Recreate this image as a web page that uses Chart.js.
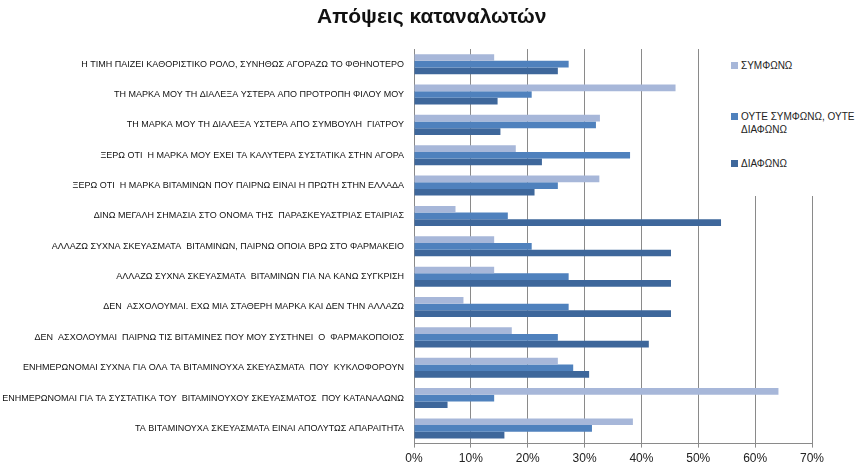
<!DOCTYPE html>
<html>
<head>
<meta charset="utf-8">
<script src="https://cdn.jsdelivr.net/npm/chart.js@4"></script>
<style>
  html, body { margin: 0; padding: 0; background: #fff; }
  #wrap { position: relative; width: 861px; height: 471px; }
  #title {
    position: absolute; left: 317px; top: 4px; width: 200px; text-align: center; white-space: nowrap;
    font-family: "Liberation Sans", Arial, sans-serif; font-size: 21px; font-weight: bold; color: #111;
  }
  #legend {
    position: absolute; left: 722px; top: 42px; width: 139px; height: 154px;
    background: #fff; font-family: "Liberation Sans", Arial, sans-serif; font-size: 10px; color: #222;
  }
  #legend .item { position: absolute; left: 9px; width: 118px; line-height: 13px; padding-left: 10px; }
  #legend .box { position: absolute; left: 0; top: 3px; width: 7px; height: 7px; }
</style>
</head>
<body>
<div id="wrap">
  <canvas id="chart" width="861" height="471"></canvas>
  <div id="title">Απόψεις καταναλωτών</div>
  <div id="legend"></div>
</div>
<script>
// κατηγορίες (από πάνω προς τα κάτω)
const categories = [
  'Η ΤΙΜΗ ΠΑΙΖΕΙ ΚΑΘΟΡΙΣΤΙΚΟ ΡΟΛΟ, ΣΥΝΗΘΩΣ ΑΓΟΡΑΖΩ ΤΟ ΦΘΗΝΟΤΕΡΟ',
  'ΤΗ ΜΑΡΚΑ ΜΟΥ ΤΗ ΔΙΑΛΕΞΑ ΥΣΤΕΡΑ ΑΠΟ ΠΡΟΤΡΟΠΗ ΦΙΛΟΥ ΜΟΥ',
  'ΤΗ ΜΑΡΚΑ ΜΟΥ ΤΗ ΔΙΑΛΕΞΑ ΥΣΤΕΡΑ ΑΠΟ ΣΥΜΒΟΥΛΗ  ΓΙΑΤΡΟΥ',
  'ΞΕΡΩ ΟΤΙ  Η ΜΑΡΚΑ ΜΟΥ ΕΧΕΙ ΤΑ ΚΑΛΥΤΕΡΑ ΣΥΣΤΑΤΙΚΑ ΣΤΗΝ ΑΓΟΡΑ',
  'ΞΕΡΩ ΟΤΙ  Η ΜΑΡΚΑ ΒΙΤΑΜΙΝΩΝ ΠΟΥ ΠΑΙΡΝΩ ΕΙΝΑΙ Η ΠΡΩΤΗ ΣΤΗΝ ΕΛΛΑΔΑ',
  'ΔΙΝΩ ΜΕΓΑΛΗ ΣΗΜΑΣΙΑ ΣΤΟ ΟΝΟΜΑ ΤΗΣ  ΠΑΡΑΣΚΕΥΑΣΤΡΙΑΣ ΕΤΑΙΡΙΑΣ',
  'ΑΛΛΑΖΩ ΣΥΧΝΑ ΣΚΕΥΑΣΜΑΤΑ  ΒΙΤΑΜΙΝΩΝ, ΠΑΙΡΝΩ ΟΠΟΙΑ ΒΡΩ ΣΤΟ ΦΑΡΜΑΚΕΙΟ',
  'ΑΛΛΑΖΩ ΣΥΧΝΑ ΣΚΕΥΑΣΜΑΤΑ  ΒΙΤΑΜΙΝΩΝ ΓΙΑ ΝΑ ΚΑΝΩ ΣΥΓΚΡΙΣΗ',
  'ΔΕΝ  ΑΣΧΟΛΟΥΜΑΙ. ΕΧΩ ΜΙΑ ΣΤΑΘΕΡΗ ΜΑΡΚΑ ΚΑΙ ΔΕΝ ΤΗΝ ΑΛΛΑΖΩ',
  'ΔΕΝ  ΑΣΧΟΛΟΥΜΑΙ  ΠΑΙΡΝΩ ΤΙΣ ΒΙΤΑΜΙΝΕΣ ΠΟΥ ΜΟΥ ΣΥΣΤΗΝΕΙ  Ο  ΦΑΡΜΑΚΟΠΟΙΟΣ',
  'ΕΝΗΜΕΡΩΝΟΜΑΙ ΣΥΧΝΑ ΓΙΑ ΟΛΑ ΤΑ ΒΙΤΑΜΙΝΟΥΧΑ ΣΚΕΥΑΣΜΑΤΑ  ΠΟΥ  ΚΥΚΛΟΦΟΡΟΥΝ',
  'ΕΝΗΜΕΡΩΝΟΜΑΙ ΓΙΑ ΤΑ ΣΥΣΤΑΤΙΚΑ ΤΟΥ  ΒΙΤΑΜΙΝΟΥΧΟΥ ΣΚΕΥΑΣΜΑΤΟΣ  ΠΟΥ ΚΑΤΑΝΑΛΩΝΩ',
  'ΤΑ ΒΙΤΑΜΙΝΟΥΧΑ ΣΚΕΥΑΣΜΑΤΑ ΕΙΝΑΙ ΑΠΟΛΥΤΩΣ ΑΠΑΡΑΙΤΗΤΑ'
];

const seriesNames = ['ΣΥΜΦΩΝΩ', 'ΟΥΤΕ ΣΥΜΦΩΝΩ, ΟΥΤΕ ΔΙΑΦΩΝΩ', 'ΔΙΑΦΩΝΩ'];

// ποσοστά (%)
const agree    = [14.1, 46.0, 32.7, 17.9, 32.6, 7.3, 14.1, 14.1, 8.7, 17.2, 25.3, 64.1, 38.5];
const neutral  = [27.2, 20.7, 32.0, 38.0, 25.3, 16.5, 20.7, 27.2, 27.2, 25.3, 28.0, 14.1, 31.3];
const disagree = [25.3, 14.7, 15.2, 22.5, 21.2, 54.0, 45.2, 45.2, 45.2, 41.3, 30.8, 5.9, 15.9];

const xTicks = [0, 10, 20, 30, 40, 50, 60, 70];

const colors = ['#a7b7d9', '#4f81bd', '#3e679b'];

const chart = new Chart(document.getElementById('chart'), {
  type: 'bar',
  data: {
    labels: categories,
    datasets: [agree, neutral, disagree].map(function (d, i) {
      return {
        label: seriesNames[i],
        data: d,
        backgroundColor: colors[i],
        borderWidth: 0,
        barPercentage: 1.0,
        categoryPercentage: 0.66
      };
    })
  },
  options: {
    indexAxis: 'y',
    responsive: false,
    animation: false,
    layout: { padding: { left: 2, right: 49, top: 49, bottom: 1 } },
    plugins: {
      legend: { display: false },
      tooltip: { enabled: false },
      title: { display: false }
    },
    scales: {
      x: {
        min: 0, max: 70,
        afterBuildTicks: function (axis) {
          axis.ticks = xTicks.map(function (v) { return { value: v }; });
        },
        ticks: {
          callback: function (v) { return v + '%'; },
          color: '#222',
          font: { family: 'Liberation Sans', size: 12 },
          padding: 4
        },
        grid: { color: '#8a8a8a', lineWidth: 1, drawTicks: true, tickLength: 4 },
        border: { color: '#8a8a8a' }
      },
      y: {
        afterFit: function (axis) { axis.width = 412; },
        ticks: {
          color: '#111',
          font: { family: 'Liberation Sans', size: 9 },
          padding: 10,
          autoSkip: false
        },
        grid: { display: false, drawTicks: false },
        border: { color: '#8a8a8a' }
      }
    }
  }
});

// λεζάντα πάνω από την περιοχή του γραφήματος
const legendEl = document.getElementById('legend');
const legendTops = [17, 68, 115];
seriesNames.forEach(function (name, i) {
  const item = document.createElement('div');
  item.className = 'item';
  item.style.top = legendTops[i] + 'px';
  const box = document.createElement('span');
  box.className = 'box';
  box.style.background = colors[i];
  item.appendChild(box);
  item.appendChild(document.createTextNode(name));
  legendEl.appendChild(item);
});
</script>
</body>
</html>
